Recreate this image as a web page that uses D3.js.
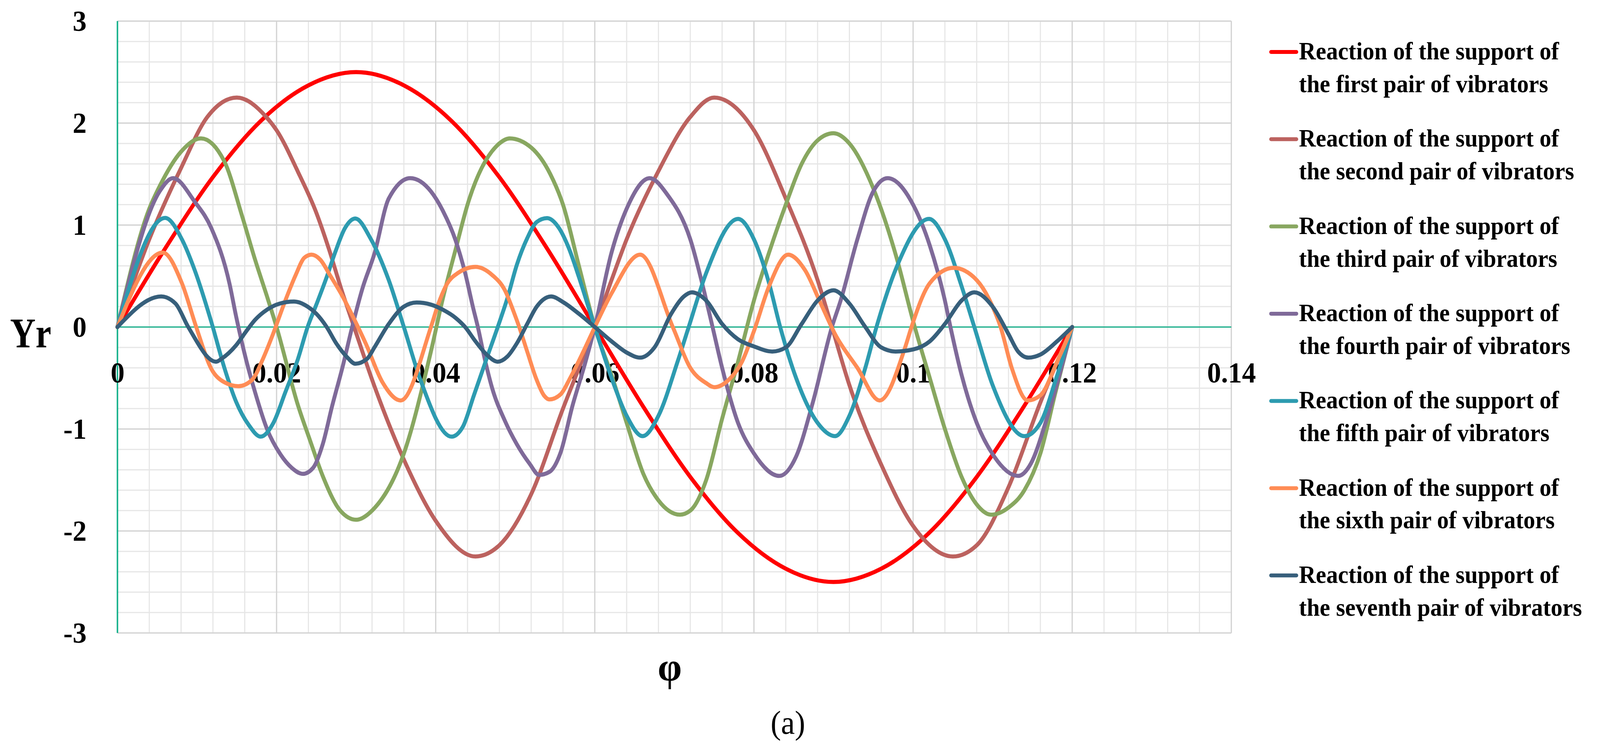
<!DOCTYPE html>
<html>
<head>
<meta charset="utf-8">
<script src="https://cdn.jsdelivr.net/npm/d3@7"></script>
<style>
  html, body { margin: 0; padding: 0; background: #fff; overflow: hidden; }
  svg { display: block; }
  text { font-family: "Liberation Serif", "Times New Roman", serif; }
</style>
</head>
<body>
<svg id="chart"></svg>
<script>
// values, [phi, Yr]
const first = [[0,0],[0.006,0.77],[0.012,1.47],[0.018,2.02],[0.024,2.37],[0.03,2.5],[0.036,2.37],[0.042,2.02],[0.048,1.47],[0.054,0.77],[0.06,0],[0.066,-0.77],[0.072,-1.47],[0.078,-2.02],[0.084,-2.37],[0.09,-2.5],[0.096,-2.37],[0.102,-2.02],[0.108,-1.47],[0.114,-0.77],[0.12,0]];
const second = [[0,0],[0.004,0.86],[0.008,1.56],[0.0113,2.06],[0.015,2.25],[0.0187,2.06],[0.02,1.93],[0.0227,1.52],[0.025,1.12],[0.0266,0.76],[0.0281,0.38],[0.0297,0.01],[0.0323,-0.58],[0.036,-1.3],[0.04,-1.9],[0.045,-2.25],[0.048,-2.14],[0.052,-1.64],[0.056,-0.8],[0.06,0],[0.0621,0.46],[0.064,0.86],[0.068,1.53],[0.072,2.06],[0.075,2.25],[0.08,1.93],[0.084,1.26],[0.088,0.46],[0.0898,0],[0.092,-0.57],[0.096,-1.35],[0.1,-1.95],[0.105,-2.25],[0.108,-2.14],[0.112,-1.57],[0.116,-0.74],[0.12,0]];
const third = [[0,0],[0.004,1.16],[0.0053,1.38],[0.008,1.72],[0.0105,1.85],[0.0134,1.63],[0.0157,1.08],[0.0173,0.66],[0.0188,0.3],[0.02,0],[0.0227,-0.77],[0.0242,-1.11],[0.0258,-1.46],[0.028,-1.8],[0.03,-1.89],[0.032,-1.8],[0.036,-1.24],[0.0394,-0.24],[0.0409,0.28],[0.0425,0.76],[0.044,1.2],[0.048,1.8],[0.0493,1.85],[0.052,1.76],[0.0544,1.5],[0.056,1.2],[0.058,0.6],[0.06,0],[0.0621,-0.47],[0.064,-0.94],[0.0661,-1.44],[0.068,-1.7],[0.0707,-1.84],[0.072,-1.8],[0.074,-1.5],[0.076,-0.9],[0.078,-0.34],[0.08,0.26],[0.0819,0.73],[0.084,1.2],[0.086,1.6],[0.088,1.83],[0.09,1.9],[0.092,1.8],[0.095,1.36],[0.098,0.66],[0.1,0.06],[0.1021,-0.5],[0.104,-1.0],[0.1061,-1.47],[0.108,-1.74],[0.1098,-1.84],[0.112,-1.77],[0.114,-1.6],[0.116,-1.24],[0.1179,-0.64],[0.12,0]];
const fourth = [[0,0],[0.0053,1.33],[0.007,1.46],[0.0097,1.23],[0.0118,0.97],[0.0141,0.42],[0.0149,0.11],[0.0162,-0.33],[0.0173,-0.64],[0.0188,-1.0],[0.0205,-1.25],[0.0219,-1.38],[0.0233,-1.44],[0.0246,-1.38],[0.0258,-1.15],[0.027,-0.77],[0.0283,-0.39],[0.0295,0],[0.0308,0.38],[0.0323,0.72],[0.0341,1.26],[0.0368,1.46],[0.0394,1.33],[0.0409,1.14],[0.0425,0.85],[0.0437,0.53],[0.0447,0.19],[0.0453,0],[0.0461,-0.29],[0.0471,-0.6],[0.0487,-0.92],[0.0502,-1.15],[0.0518,-1.34],[0.053,-1.45],[0.0543,-1.42],[0.0557,-1.23],[0.0572,-0.77],[0.0588,-0.35],[0.06,0],[0.0621,0.73],[0.064,1.16],[0.0669,1.46],[0.0691,1.3],[0.072,0.86],[0.0738,0.33],[0.0748,0],[0.076,-0.4],[0.078,-0.94],[0.08,-1.24],[0.0832,-1.46],[0.0853,-1.27],[0.0874,-0.74],[0.0898,0],[0.0909,0.26],[0.093,0.86],[0.095,1.33],[0.0968,1.46],[0.1,1.2],[0.1021,0.8],[0.104,0.26],[0.1047,0],[0.1061,-0.47],[0.108,-0.94],[0.1102,-1.27],[0.1132,-1.46],[0.1148,-1.34],[0.1168,-0.9],[0.1184,-0.47],[0.12,0]];
const fifth = [[0,0],[0.006,1.07],[0.0081,0.86],[0.0097,0.56],[0.0118,0.05],[0.0134,-0.39],[0.0149,-0.73],[0.0165,-0.96],[0.018,-1.075],[0.0196,-0.94],[0.0211,-0.64],[0.0227,-0.31],[0.0239,0],[0.025,0.22],[0.0263,0.49],[0.0274,0.74],[0.0286,0.97],[0.0299,1.064],[0.0318,0.87],[0.0341,0.46],[0.036,0],[0.038,-0.5],[0.042,-1.075],[0.0434,-0.98],[0.0448,-0.67],[0.0464,-0.31],[0.0478,0],[0.049,0.28],[0.0502,0.61],[0.0515,0.87],[0.0527,1.03],[0.054,1.068],[0.0555,0.97],[0.0567,0.78],[0.058,0.49],[0.0591,0.22],[0.06,0],[0.0621,-0.5],[0.064,-0.87],[0.066,-1.07],[0.068,-0.87],[0.0704,-0.34],[0.0718,0],[0.074,0.53],[0.078,1.06],[0.08,0.86],[0.0819,0.43],[0.0833,0],[0.0853,-0.5],[0.088,-0.94],[0.0902,-1.07],[0.092,-0.87],[0.094,-0.4],[0.0954,0],[0.098,0.6],[0.102,1.06],[0.104,0.86],[0.1061,0.4],[0.1077,0],[0.11,-0.57],[0.114,-1.07],[0.116,-0.94],[0.118,-0.5],[0.12,0]];
const sixth = [[0,0],[0.0057,0.73],[0.0081,0.43],[0.0099,0],[0.0118,-0.41],[0.0134,-0.54],[0.0152,-0.58],[0.0169,-0.52],[0.0183,-0.31],[0.0194,-0.1],[0.0211,0.26],[0.0224,0.51],[0.0235,0.68],[0.0244,0.71],[0.0255,0.66],[0.0267,0.51],[0.0283,0.3],[0.0298,0.07],[0.0312,-0.16],[0.0333,-0.54],[0.0356,-0.72],[0.0394,0],[0.0403,0.22],[0.0414,0.42],[0.0428,0.53],[0.045,0.59],[0.0471,0.51],[0.0487,0.36],[0.0498,0.15],[0.0505,0],[0.0515,-0.24],[0.0526,-0.5],[0.0536,-0.67],[0.0543,-0.71],[0.0557,-0.66],[0.0569,-0.5],[0.0585,-0.25],[0.06,0],[0.0621,0.33],[0.0657,0.71],[0.0698,0],[0.072,-0.4],[0.074,-0.55],[0.075,-0.59],[0.0768,-0.52],[0.0785,-0.34],[0.08,-0.04],[0.0819,0.4],[0.0843,0.71],[0.0864,0.56],[0.0884,0.23],[0.0902,-0.07],[0.093,-0.4],[0.0958,-0.72],[0.099,-0.2],[0.0998,0],[0.1021,0.43],[0.1051,0.58],[0.108,0.46],[0.11,0.2],[0.111,0],[0.1124,-0.4],[0.1144,-0.72],[0.116,-0.67],[0.1181,-0.34],[0.12,0]];
const seventh = [[0,0],[0.0055,0.3],[0.0073,0.23],[0.0089,0],[0.0124,-0.34],[0.0131,-0.31],[0.0149,-0.18],[0.0162,-0.04],[0.0173,0.07],[0.0188,0.17],[0.0204,0.23],[0.0222,0.25],[0.0239,0.2],[0.025,0.13],[0.0263,0],[0.0275,-0.16],[0.0288,-0.29],[0.0299,-0.36],[0.0314,-0.31],[0.0323,-0.2],[0.0341,0.03],[0.036,0.2],[0.0376,0.24],[0.0394,0.22],[0.0409,0.17],[0.0425,0.09],[0.0437,0],[0.045,-0.14],[0.0464,-0.27],[0.0478,-0.34],[0.049,-0.29],[0.0502,-0.16],[0.0515,0.03],[0.0527,0.2],[0.0545,0.3],[0.0561,0.24],[0.058,0.13],[0.06,0],[0.0621,-0.14],[0.064,-0.25],[0.0657,-0.3],[0.0675,-0.2],[0.0696,0.13],[0.0712,0.3],[0.0722,0.34],[0.074,0.26],[0.076,0.03],[0.078,-0.12],[0.08,-0.19],[0.0823,-0.24],[0.084,-0.2],[0.086,0.03],[0.088,0.26],[0.09,0.36],[0.092,0.23],[0.094,0],[0.096,-0.2],[0.0978,-0.24],[0.1,-0.22],[0.1021,-0.14],[0.104,0.03],[0.1061,0.26],[0.1077,0.34],[0.11,0.2],[0.112,-0.07],[0.1132,-0.24],[0.1145,-0.3],[0.116,-0.27],[0.1181,-0.14],[0.12,0]];

const seriesNames = [
  ["Reaction of the support of", "the first pair of vibrators"],
  ["Reaction of the support of", "the second pair of vibrators"],
  ["Reaction of the support of", "the third pair of vibrators"],
  ["Reaction of the support of", "the fourth pair of vibrators"],
  ["Reaction of the support of", "the fifth pair of vibrators"],
  ["Reaction of the support of", "the sixth pair of vibrators"],
  ["Reaction of the support of", "the seventh pair of vibrators"]
];
const seriesColors = ["#ff0000", "#bc625f", "#88a760", "#7f6a99", "#2d9bb0", "#ff8c55", "#375f7b"];
const xTicks = [0, 0.02, 0.04, 0.06, 0.08, 0.1, 0.12, 0.14];
const xTickLabels = ["0", "0.02", "0.04", "0.06", "0.08", "0.1", "0.12", "0.14"];
const yTicks = [-3, -2, -1, 0, 1, 2, 3];
const yTickLabels = ["-3", "-2", "-1", "0", "1", "2", "3"];

const W = 4305, H = 1917;
const plotLeft = 316, plotRight = 3313, plotTop = 54, plotBottom = 1620;
const allSeries = [first, second, third, fourth, fifth, sixth, seventh];

// viewBox so the drawing always fills the window whatever its css size
const svg = d3.select("#chart")
  .attr("viewBox", "0 0 " + W + " " + H)
  .attr("preserveAspectRatio", "none")
  .style("width", "100vw").style("height", "100vh");
svg.append("rect").attr("width", W).attr("height", H).attr("fill", "#fff");

const x = d3.scaleLinear().domain([0, 0.14]).range([plotLeft, plotRight]);
const y = d3.scaleLinear().domain([-3, 3]).range([plotBottom, plotTop]);

// grid: minor every 0.004 / 0.2, major on the ticks
let grid = svg.append("g");
let xMinor = d3.range(0, 36).map(i => i * 0.004);
let yMinor = d3.range(0, 31).map(i => -3 + i * 0.2);
grid.selectAll(".vmin").data(xMinor).enter().append("line")
  .attr("x1", d => x(d)).attr("x2", d => x(d)).attr("y1", plotTop).attr("y2", plotBottom)
  .attr("stroke", "#e6e6e6").attr("stroke-width", 3);
grid.selectAll(".hmin").data(yMinor).enter().append("line")
  .attr("x1", plotLeft).attr("x2", plotRight).attr("y1", d => y(d)).attr("y2", d => y(d))
  .attr("stroke", "#e6e6e6").attr("stroke-width", 3);
grid.selectAll(".vmaj").data(xTicks).enter().append("line")
  .attr("x1", d => x(d)).attr("x2", d => x(d)).attr("y1", plotTop).attr("y2", plotBottom)
  .attr("stroke", "#d2d2d2").attr("stroke-width", 3);
grid.selectAll(".hmaj").data(yTicks).enter().append("line")
  .attr("x1", plotLeft).attr("x2", plotRight).attr("y1", d => y(d)).attr("y2", d => y(d))
  .attr("stroke", "#d2d2d2").attr("stroke-width", 3);

// green axis lines through zero
svg.append("line").attr("x1", x(0)).attr("x2", x(0.14)).attr("y1", y(0)).attr("y2", y(0))
  .attr("stroke", "#13b08a").attr("stroke-width", 3);
svg.append("line").attr("x1", x(0)).attr("x2", x(0)).attr("y1", y(3)).attr("y2", y(-3))
  .attr("stroke", "#13b08a").attr("stroke-width", 4);

// tick labels through d3 axes
let yAxis = svg.append("g").attr("transform", "translate(" + plotLeft + ",0)")
  .call(d3.axisLeft(y).tickValues(yTicks).tickSize(0).tickPadding(83)
    .tickFormat((d, i) => yTickLabels[i]));
let xAxis = svg.append("g").attr("transform", "translate(0," + y(0) + ")")
  .call(d3.axisBottom(x).tickValues(xTicks).tickSize(0).tickPadding(89)
    .tickFormat((d, i) => xTickLabels[i]));
[yAxis, xAxis].forEach(g => {
  g.select(".domain").remove();
  g.selectAll("text").attr("font-family", "'Liberation Serif', serif")
    .attr("font-weight", "bold").attr("font-size", 75).attr("fill", "#000");
});

// curves
let line = d3.line().x(d => x(d[0])).y(d => y(d[1])).curve(d3.curveMonotoneX);
svg.append("g").selectAll("path").data(allSeries).enter().append("path")
  .attr("d", d => line(d))
  .attr("fill", "none")
  .attr("stroke", (d, i) => seriesColors[i])
  .attr("stroke-width", 10.5)
  .attr("stroke-linejoin", "round")
  .attr("stroke-linecap", "round");

// axis titles
svg.append("text").attr("x", 27).attr("y", 889).attr("font-size", 108).attr("font-weight", "bold")
  .attr("textLength", 111).attr("lengthAdjust", "spacingAndGlyphs").text("Yr");
svg.append("text").attr("x", 1802).attr("y", 1742).attr("text-anchor", "middle")
  .attr("font-size", 104).attr("font-weight", "bold").text("φ");
svg.append("text").attr("x", 2120).attr("y", 1878).attr("text-anchor", "middle")
  .attr("font-size", 84).text("(a)");

// legend
let legend = svg.append("g");
let item = legend.selectAll("g").data(seriesNames).enter().append("g")
  .attr("transform", (d, i) => "translate(0," + (133 + i * 223.3) + ")");
item.append("line").attr("x1", 3420).attr("x2", 3488).attr("y1", 0).attr("y2", 0)
  .attr("stroke", (d, i) => seriesColors[i]).attr("stroke-width", 10).attr("stroke-linecap", "round");
item.append("text").attr("x", 3495).attr("y", 19).attr("font-size", 63).attr("font-weight", "bold")
  .text(d => d[0]);
item.append("text").attr("x", 3495).attr("y", 103).attr("font-size", 63).attr("font-weight", "bold")
  .text(d => d[1]);
</script>
</body>
</html>
